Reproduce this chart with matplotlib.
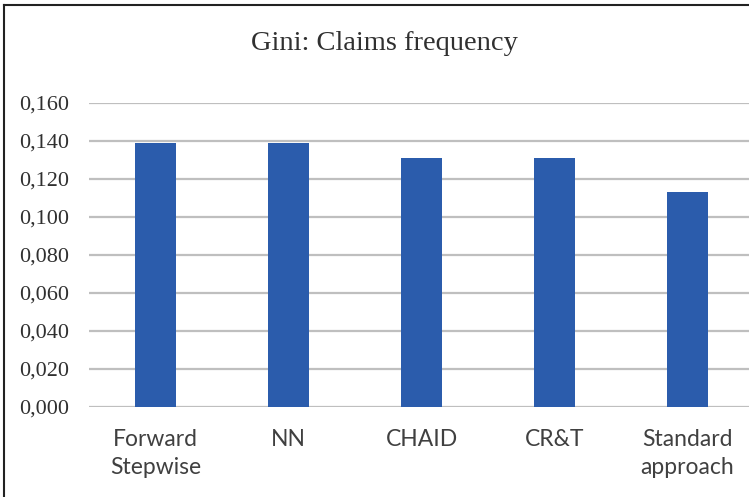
import matplotlib
matplotlib.use("Agg")
import matplotlib.pyplot as plt
from matplotlib.lines import Line2D
from matplotlib.ticker import FuncFormatter

# values
categories = ["Forward\nStepwise", "NN", "CHAID", "CR&T", "Standard\napproach"]
gini = [0.139, 0.139, 0.131, 0.131, 0.113]
yticks = [0.000, 0.020, 0.040, 0.060, 0.080, 0.100, 0.120, 0.140, 0.160]

W, H = 749, 497
fig = plt.figure(figsize=(W / 100, H / 100), dpi=100)
ax = fig.add_axes([89 / W, 1 - 407 / H, (754 - 89) / W, (407 - 103) / H])

x = range(len(categories))
ax.bar(x, gini, width=0.31, color="#2B5CAC", zorder=3)

ax.set_xlim(-0.5, len(categories) - 0.5)
ax.set_ylim(0, 0.16)
ax.set_yticks(yticks)
ax.yaxis.set_major_formatter(FuncFormatter(lambda v, _: f"{v:.3f}".replace(".", ",")))
ax.set_xticks(list(x))
ax.set_xticklabels(categories, fontfamily="Lato", fontsize=16.5, color="#404040",
                   linespacing=1.4)
for lab in ax.get_yticklabels():
    lab.set_fontfamily("Liberation Serif")
    lab.set_fontsize(16)
    lab.set_color("#303030")

ax.grid(axis="y", color="#BFBFBF", linewidth=1.6, zorder=0)
ax.tick_params(axis="both", length=0)
ax.tick_params(axis="y", pad=14)
ax.tick_params(axis="x", pad=16)
for s in ax.spines.values():
    s.set_visible(False)

fig.text(384 / W, 1 - 44 / H, "Gini: Claims frequency", ha="center", va="center",
         fontfamily="Liberation Serif", fontsize=20.5, color="#303030")

# frame lines on the top and left edge
fig.add_artist(Line2D([4 / W, 1], [1 - 5 / H, 1 - 5 / H], transform=fig.transFigure,
                      color="#222222", linewidth=1.5))
fig.add_artist(Line2D([4 / W, 4 / W], [0, 1 - 5 / H], transform=fig.transFigure,
                      color="#222222", linewidth=1.5))

fig.savefig("out.png", dpi=100)
